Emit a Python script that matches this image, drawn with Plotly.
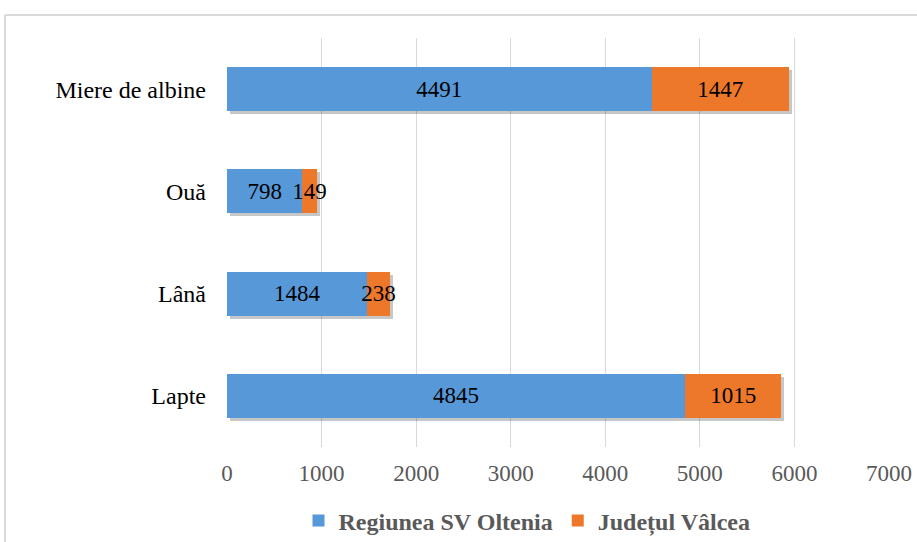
import plotly.graph_objects as go

# Production by product category
categories = ["Lapte", "Lână", "Ouă", "Miere de albine"]
regiunea_sv_oltenia = [4845, 1484, 798, 4491]
judetul_valcea = [1015, 238, 149, 1447]
x_ticks = [0, 1000, 2000, 3000, 4000, 5000, 6000, 7000]

W, H = 917, 542
M_L, M_R, M_T, M_B = 227, 28, 38, 95
X_MAX = 7000
SHADOW_PX = 3

serif = "Liberation Serif, Times New Roman, serif"

plot_w = W - M_L - M_R
plot_h = H - M_T - M_B
n_cat = len(categories)

totals = [a + b for a, b in zip(regiunea_sv_oltenia, judetul_valcea)]

fig = go.Figure()

# soft drop shadow behind each stacked bar (drawn on the lower axis pair,
# whose ranges are nudged a few pixels right and down)
fig.add_trace(go.Bar(
    y=categories, x=totals, orientation="h",
    xaxis="x", yaxis="y",
    marker=dict(color="rgba(0,0,0,0.22)", line=dict(width=0)),
    showlegend=False, hoverinfo="skip",
))

fig.add_trace(go.Bar(
    y=categories, x=regiunea_sv_oltenia, orientation="h",
    xaxis="x2", yaxis="y2",
    name="Regiunea SV Oltenia",
    marker=dict(color="#5799d8", line=dict(width=0)),
    text=[str(v) for v in regiunea_sv_oltenia],
    textposition="inside", insidetextanchor="middle", constraintext="none",
    textangle=0,
    textfont=dict(family=serif, size=23, color="#000000"),
))
fig.add_trace(go.Bar(
    y=categories, x=judetul_valcea, orientation="h",
    xaxis="x2", yaxis="y2",
    name="Județul Vâlcea",
    marker=dict(color="#ee7829", line=dict(width=0)),
    text=[str(v) for v in judetul_valcea],
    textposition="inside", insidetextanchor="middle", constraintext="none",
    textangle=0,
    textfont=dict(family=serif, size=23, color="#000000"),
))

# light outer frame of the chart area (left and top edges visible)
fx0 = (5 - M_L) / plot_w
fy1 = (H - M_B - 15) / plot_h
fig.add_shape(type="line", xref="paper", yref="paper",
              x0=fx0, x1=fx0, y0=-1.0, y1=fy1,
              line=dict(color="#d9d9d9", width=2))
fig.add_shape(type="line", xref="paper", yref="paper",
              x0=fx0, x1=2.0, y0=fy1, y1=fy1,
              line=dict(color="#d9d9d9", width=2))

dx = SHADOW_PX * X_MAX / plot_w
dy = SHADOW_PX * n_cat / plot_h

fig.update_layout(
    width=W, height=H,
    margin=dict(l=M_L, r=M_R, t=M_T, b=M_B, autoexpand=False),
    barmode="stack", bargap=0.57,
    paper_bgcolor="white", plot_bgcolor="white",
    font=dict(family=serif),
    xaxis=dict(
        range=[-dx, X_MAX - dx], visible=False, showgrid=False,
        zeroline=False, automargin=False,
    ),
    yaxis=dict(
        type="category", categoryorder="array", categoryarray=categories,
        range=[-0.5 + dy, n_cat - 0.5 + dy], visible=False,
        showgrid=False, zeroline=False, automargin=False,
    ),
    xaxis2=dict(
        overlaying="x", anchor="y2", side="bottom",
        range=[0, X_MAX], tickvals=x_ticks,
        ticktext=[str(v) for v in x_ticks],
        showgrid=True, gridcolor="#d9d9d9", gridwidth=1,
        zeroline=False, showline=False, automargin=False,
        tickfont=dict(family=serif, size=23, color="#595959"),
        ticks="", ticklabelstandoff=10,
    ),
    yaxis2=dict(
        overlaying="y", anchor="x2", side="left",
        type="category", categoryorder="array", categoryarray=categories,
        range=[-0.5, n_cat - 0.5],
        showgrid=False, zeroline=False, showline=False, automargin=False,
        tickfont=dict(family=serif, size=24, color="#000000"),
        ticks="", ticklabelstandoff=20,
    ),
    legend=dict(
        orientation="h", x=(527 - M_L) / plot_w, xanchor="center",
        y=(H - M_B - 521) / plot_h, yanchor="middle",
        font=dict(family=serif, size=24, color="#595959", weight="bold"),
        itemwidth=30, traceorder="normal",
    ),
    showlegend=True,
)

fig.write_html("out.html")
